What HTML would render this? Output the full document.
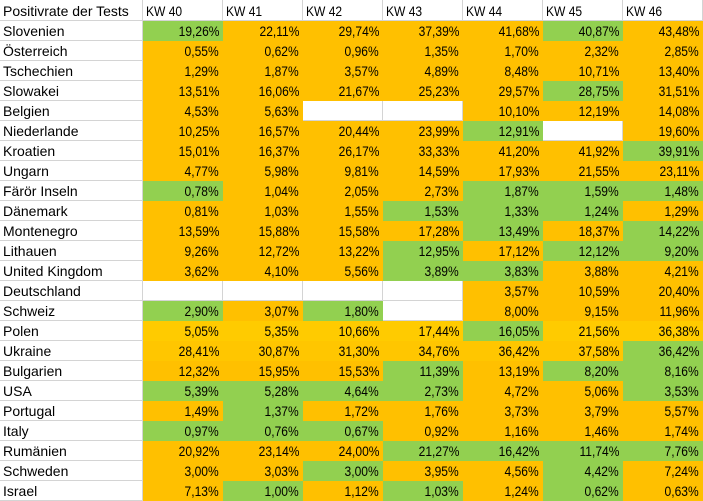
<!DOCTYPE html>
<html><head><meta charset="utf-8">
<style>
html,body{margin:0;padding:0;background:#fff;}
body{width:703px;height:501px;overflow:hidden;font-family:"Liberation Sans",sans-serif;font-size:14px;color:#000;}
.g{display:grid;grid-template-columns:143px repeat(7,80px);grid-template-rows:21px repeat(24,20px);width:703px;height:501px;}
.g>div{box-sizing:border-box;border-right:1px solid #d4d4d4;border-bottom:1px solid #d4d4d4;white-space:nowrap;overflow:visible;line-height:19px;padding-top:1px;}
.g>div.h{line-height:20px;padding-top:1px;}
.n{padding-left:3px;}
.k{padding-left:3px;}
.k span{display:inline-block;transform:scaleX(.86);transform-origin:left center;}
.v{text-align:right;padding-right:4px;}
.v span{display:inline-block;transform:scaleX(.86);transform-origin:right center;}
.g>div.o{background:#FFC000;border:0;}
.g>div.x{background:#92D050;border:0;}
.g>div.y{background:#FFCB00;border:0;}
.g>div.u{background:#FFC600;border:0;}
</style></head><body>
<div class="g">
<div class="h n">Positivrate der Tests</div><div class="h k"><span>KW 40</span></div><div class="h k"><span>KW 41</span></div><div class="h k"><span>KW 42</span></div><div class="h k"><span>KW 43</span></div><div class="h k"><span>KW 44</span></div><div class="h k"><span>KW 45</span></div><div class="h k"><span>KW 46</span></div>

<div class="n">Slovenien</div><div class="v x"><span>19,26%</span></div><div class="v o"><span>22,11%</span></div><div class="v o"><span>29,74%</span></div><div class="v o"><span>37,39%</span></div><div class="v o"><span>41,68%</span></div><div class="v x"><span>40,87%</span></div><div class="v o"><span>43,48%</span></div>

<div class="n">Österreich</div><div class="v o"><span>0,55%</span></div><div class="v o"><span>0,62%</span></div><div class="v o"><span>0,96%</span></div><div class="v o"><span>1,35%</span></div><div class="v o"><span>1,70%</span></div><div class="v o"><span>2,32%</span></div><div class="v o"><span>2,85%</span></div>

<div class="n">Tschechien</div><div class="v o"><span>1,29%</span></div><div class="v o"><span>1,87%</span></div><div class="v o"><span>3,57%</span></div><div class="v o"><span>4,89%</span></div><div class="v o"><span>8,48%</span></div><div class="v o"><span>10,71%</span></div><div class="v o"><span>13,40%</span></div>

<div class="n">Slowakei</div><div class="v o"><span>13,51%</span></div><div class="v o"><span>16,06%</span></div><div class="v o"><span>21,67%</span></div><div class="v o"><span>25,23%</span></div><div class="v o"><span>29,57%</span></div><div class="v x"><span>28,75%</span></div><div class="v o"><span>31,51%</span></div>

<div class="n">Belgien</div><div class="v o"><span>4,53%</span></div><div class="v o"><span>5,63%</span></div><div class="v"></div><div class="v"></div><div class="v o"><span>10,10%</span></div><div class="v o"><span>12,19%</span></div><div class="v o"><span>14,08%</span></div>

<div class="n">Niederlande</div><div class="v o"><span>10,25%</span></div><div class="v o"><span>16,57%</span></div><div class="v o"><span>20,44%</span></div><div class="v o"><span>23,99%</span></div><div class="v x"><span>12,91%</span></div><div class="v"></div><div class="v o"><span>19,60%</span></div>

<div class="n">Kroatien</div><div class="v o"><span>15,01%</span></div><div class="v o"><span>16,37%</span></div><div class="v o"><span>26,17%</span></div><div class="v o"><span>33,33%</span></div><div class="v o"><span>41,20%</span></div><div class="v o"><span>41,92%</span></div><div class="v x"><span>39,91%</span></div>

<div class="n">Ungarn</div><div class="v o"><span>4,77%</span></div><div class="v o"><span>5,98%</span></div><div class="v o"><span>9,81%</span></div><div class="v o"><span>14,59%</span></div><div class="v o"><span>17,93%</span></div><div class="v o"><span>21,55%</span></div><div class="v o"><span>23,11%</span></div>

<div class="n">Färör Inseln</div><div class="v x"><span>0,78%</span></div><div class="v o"><span>1,04%</span></div><div class="v o"><span>2,05%</span></div><div class="v o"><span>2,73%</span></div><div class="v x"><span>1,87%</span></div><div class="v x"><span>1,59%</span></div><div class="v x"><span>1,48%</span></div>

<div class="n">Dänemark</div><div class="v o"><span>0,81%</span></div><div class="v o"><span>1,03%</span></div><div class="v o"><span>1,55%</span></div><div class="v x"><span>1,53%</span></div><div class="v x"><span>1,33%</span></div><div class="v x"><span>1,24%</span></div><div class="v o"><span>1,29%</span></div>

<div class="n">Montenegro</div><div class="v o"><span>13,59%</span></div><div class="v o"><span>15,88%</span></div><div class="v o"><span>15,58%</span></div><div class="v o"><span>17,28%</span></div><div class="v x"><span>13,49%</span></div><div class="v o"><span>18,37%</span></div><div class="v x"><span>14,22%</span></div>

<div class="n">Lithauen</div><div class="v o"><span>9,26%</span></div><div class="v o"><span>12,72%</span></div><div class="v o"><span>13,22%</span></div><div class="v x"><span>12,95%</span></div><div class="v o"><span>17,12%</span></div><div class="v x"><span>12,12%</span></div><div class="v x"><span>9,20%</span></div>

<div class="n">United Kingdom</div><div class="v o"><span>3,62%</span></div><div class="v o"><span>4,10%</span></div><div class="v o"><span>5,56%</span></div><div class="v x"><span>3,89%</span></div><div class="v x"><span>3,83%</span></div><div class="v o"><span>3,88%</span></div><div class="v o"><span>4,21%</span></div>

<div class="n">Deutschland</div><div class="v"></div><div class="v"></div><div class="v"></div><div class="v"></div><div class="v o"><span>3,57%</span></div><div class="v o"><span>10,59%</span></div><div class="v o"><span>20,40%</span></div>

<div class="n">Schweiz</div><div class="v x"><span>2,90%</span></div><div class="v o"><span>3,07%</span></div><div class="v x"><span>1,80%</span></div><div class="v"></div><div class="v o"><span>8,00%</span></div><div class="v o"><span>9,15%</span></div><div class="v o"><span>11,96%</span></div>

<div class="n">Polen</div><div class="v y"><span>5,05%</span></div><div class="v y"><span>5,35%</span></div><div class="v y"><span>10,66%</span></div><div class="v y"><span>17,44%</span></div><div class="v x"><span>16,05%</span></div><div class="v y"><span>21,56%</span></div><div class="v y"><span>36,38%</span></div>

<div class="n">Ukraine</div><div class="v u"><span>28,41%</span></div><div class="v u"><span>30,87%</span></div><div class="v u"><span>31,30%</span></div><div class="v u"><span>34,76%</span></div><div class="v u"><span>36,42%</span></div><div class="v u"><span>37,58%</span></div><div class="v x"><span>36,42%</span></div>

<div class="n">Bulgarien</div><div class="v o"><span>12,32%</span></div><div class="v o"><span>15,95%</span></div><div class="v o"><span>15,53%</span></div><div class="v x"><span>11,39%</span></div><div class="v o"><span>13,19%</span></div><div class="v x"><span>8,20%</span></div><div class="v x"><span>8,16%</span></div>

<div class="n">USA</div><div class="v x"><span>5,39%</span></div><div class="v x"><span>5,28%</span></div><div class="v x"><span>4,64%</span></div><div class="v x"><span>2,73%</span></div><div class="v o"><span>4,72%</span></div><div class="v o"><span>5,06%</span></div><div class="v x"><span>3,53%</span></div>

<div class="n">Portugal</div><div class="v o"><span>1,49%</span></div><div class="v x"><span>1,37%</span></div><div class="v o"><span>1,72%</span></div><div class="v o"><span>1,76%</span></div><div class="v o"><span>3,73%</span></div><div class="v o"><span>3,79%</span></div><div class="v o"><span>5,57%</span></div>

<div class="n">Italy</div><div class="v x"><span>0,97%</span></div><div class="v x"><span>0,76%</span></div><div class="v x"><span>0,67%</span></div><div class="v o"><span>0,92%</span></div><div class="v o"><span>1,16%</span></div><div class="v o"><span>1,46%</span></div><div class="v o"><span>1,74%</span></div>

<div class="n">Rumänien</div><div class="v o"><span>20,92%</span></div><div class="v o"><span>23,14%</span></div><div class="v o"><span>24,00%</span></div><div class="v x"><span>21,27%</span></div><div class="v x"><span>16,42%</span></div><div class="v x"><span>11,74%</span></div><div class="v x"><span>7,76%</span></div>

<div class="n">Schweden</div><div class="v o"><span>3,00%</span></div><div class="v o"><span>3,03%</span></div><div class="v x"><span>3,00%</span></div><div class="v o"><span>3,95%</span></div><div class="v o"><span>4,56%</span></div><div class="v x"><span>4,42%</span></div><div class="v o"><span>7,24%</span></div>

<div class="n">Israel</div><div class="v o"><span>7,13%</span></div><div class="v x"><span>1,00%</span></div><div class="v o"><span>1,12%</span></div><div class="v x"><span>1,03%</span></div><div class="v o"><span>1,24%</span></div><div class="v x"><span>0,62%</span></div><div class="v o"><span>0,63%</span></div>
</div>
</body></html>
